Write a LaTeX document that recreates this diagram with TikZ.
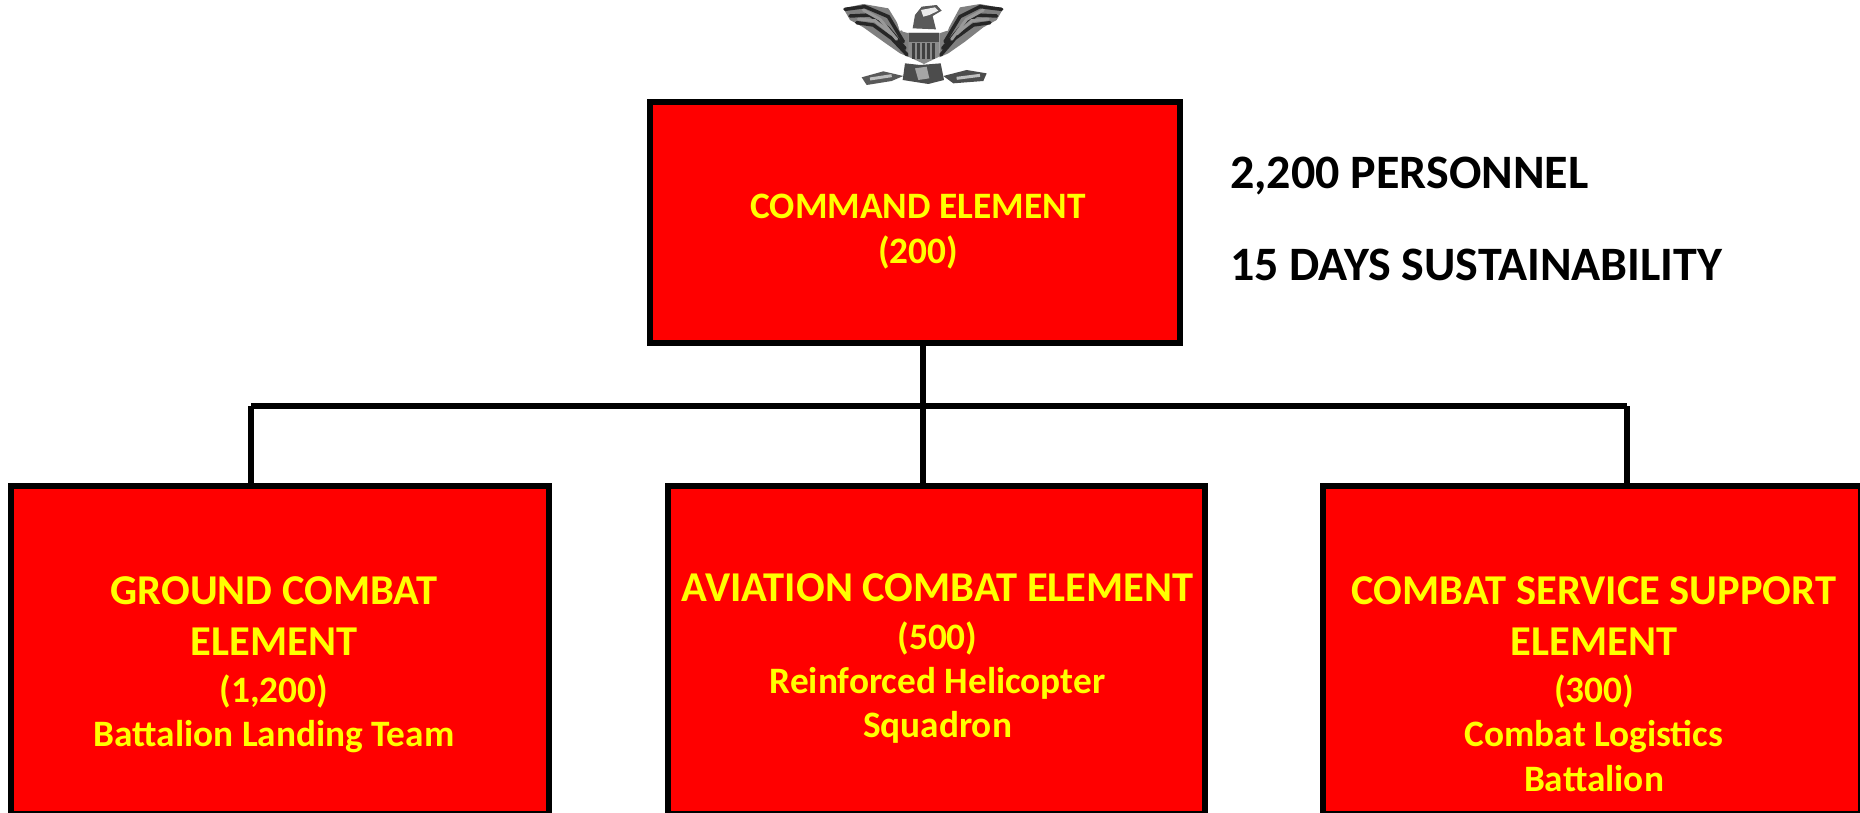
\documentclass[tikz,border=0pt]{standalone}
\usepackage{fontspec}
\setmainfont{Carlito}[BoldFont={Carlito Bold}]
\definecolor{boxred}{RGB}{255,0,0}
\definecolor{boxyellow}{RGB}{255,255,0}
\tikzset{
  orgbox/.style={draw=black,fill=boxred,line width=6pt,rectangle,inner sep=0pt,outer sep=0pt},
  orglabel/.style={text=boxyellow,font=\bfseries\offinterlineskip,align=center,inner sep=0pt,anchor=north},
  sidenote/.style={text=black,font=\bfseries\fontsize{48}{48}\selectfont,anchor=base west,inner sep=0pt},
  link/.style={draw=black,line width=6pt,line cap=butt},
  feather/.style={draw=black!85,line width=3.5pt,line cap=round},
  featherlight/.style={draw=black!40,line width=3pt,line cap=round}
}
% one label line: its size, the distance from the baseline above, its text
\newcommand{\lab}[3]{{\fontsize{#1}{#1}\selectfont\rule{0pt}{#2pt}\smash{#3}}}
\begin{document}
\begin{tikzpicture}[x=1pt,y=-1pt]
\useasboundingbox (0,0) rectangle (1860,812);
\clip (0,0) rectangle (1860,812);
\fill[white] (0,0) rectangle (1860,812);

% eagle insignia
\begin{scope}[shift={(820,0)},x=0.3333pt,y=-0.3333pt]
  % wings
  \fill[black!50] (70,25) -- (130,12) -- (205,25) -- (248,95) -- (268,100) -- (268,172) -- (240,160) -- (190,125) -- (130,82) -- (90,60) -- cycle;
  \fill[black!50] (550,25) -- (480,12) -- (420,22) -- (382,92) -- (358,100) -- (358,172) -- (385,160) -- (435,125) -- (490,82) -- (530,60) -- cycle;
  \draw[feather] (75,28) -- (135,20) -- (205,50) -- (250,125);
  \draw[feather] (90,48) -- (150,45) -- (205,85) -- (255,145);
  \draw[feather] (110,68) -- (160,75) -- (215,115) -- (262,165);
  \draw[featherlight] (130,30) -- (180,58) -- (230,118);
  \draw[featherlight] (115,57) -- (165,62) -- (215,102);
  \draw[feather] (545,28) -- (480,20) -- (420,50) -- (375,125);
  \draw[feather] (530,48) -- (470,45) -- (420,85) -- (368,145);
  \draw[feather] (510,68) -- (460,75) -- (405,115) -- (362,165);
  \draw[featherlight] (490,30) -- (440,58) -- (395,118);
  \draw[featherlight] (505,57) -- (455,62) -- (410,102);
  % inner white wing edges
  \draw[white,line width=6pt] (228,25) -- (248,90);
  \draw[white,line width=6pt] (392,25) -- (375,90);
  % head
  \fill[black!65] (278,85) -- (285,45) -- (305,20) -- (350,15) -- (365,32) -- (338,48) -- (348,88) -- cycle;
  \fill[black!8] (303,30) -- (345,22) -- (355,32) -- (328,45) -- (310,50) -- cycle;
  % shield
  \fill[black!45] (265,98) -- (358,98) -- (358,170) -- (312,192) -- (265,170) -- cycle;
  \fill[black!70] (268,98) rectangle (356,125);
  \foreach \sx in {280,295,310,325,340}
    \draw[black!75,line width=2.5pt] (\sx,130) -- (\sx,178);
  % body and tail
  \fill[black!70] (255,190) -- (300,195) -- (362,190) -- (372,240) -- (325,252) -- (248,240) -- cycle;
  \fill[black!35] (285,205) -- (320,200) -- (328,235) -- (295,240) -- cycle;
  % branches
  \fill[black!65] (125,232) -- (190,214) -- (250,228) -- (215,243) -- (140,255) -- cycle;
  \fill[black!70] (370,228) -- (440,210) -- (500,220) -- (490,243) -- (400,250) -- cycle;
  \draw[black!25,line width=3pt] (150,237) -- (215,227);
  \draw[black!25,line width=3pt] (410,235) -- (480,226);
\end{scope}

% boxes
\node[orgbox,minimum width=530pt,minimum height=241pt] (ce) at (915,222) {};
\node[orgbox,minimum width=538pt,minimum height=328pt] (gce) at (280,650) {};
\node[orgbox,minimum width=537pt,minimum height=328pt] (ace) at (936.5,650) {};
\node[orgbox,minimum width=538pt,minimum height=328pt] (csse) at (1592,650) {};

% bus
\coordinate (busL) at (251,406);
\coordinate (busM) at (923,406);
\coordinate (busR) at (1627,406);
\draw[link] (ce.south -| busM) -- (busM);
\draw[link] (busL) -- (busR);
\draw[link] (busL) -- (gce.north -| busL);
\draw[link] (busM) -- (ace.north -| busM);
\draw[link] (busR) -- (csse.north -| busR);

% box labels
\node[orglabel] (cel) at (918,173) {\lab{37.3}{45}{COMMAND ELEMENT}\\\lab{37.3}{45}{(200)}};
\node[orglabel] (gcel) at (274,553.4) {\lab{42.5}{50.5}{GROUND COMBAT}\\\lab{42.5}{51.5}{ELEMENT}\\\lab{37.3}{47}{(1,200)}\\\lab{37.3}{44}{Battalion Landing Team}};
\node[orglabel] (acel) at (937.5,551) {\lab{42.5}{50.5}{AVIATION COMBAT ELEMENT}\\\lab{37.3}{48}{(500)}\\\lab{37.3}{44}{Reinforced Helicopter}\\\lab{37.3}{44}{Squadron}};
\node[orglabel] (cssel) at (1594,553.4) {\lab{42.5}{50.5}{COMBAT SERVICE SUPPORT}\\\lab{42.5}{51.5}{ELEMENT}\\\lab{37.3}{47}{(300)}\\\lab{37.3}{44}{Combat Logistics}\\\lab{37.3}{45}{Battalion}};

% notes
\node[sidenote] (n1) at (1230,188.5) {2,200 PERSONNEL};
\node[sidenote] (n2) at (1230,280.5) {15 DAYS SUSTAINABILITY};
\end{tikzpicture}
\end{document}
